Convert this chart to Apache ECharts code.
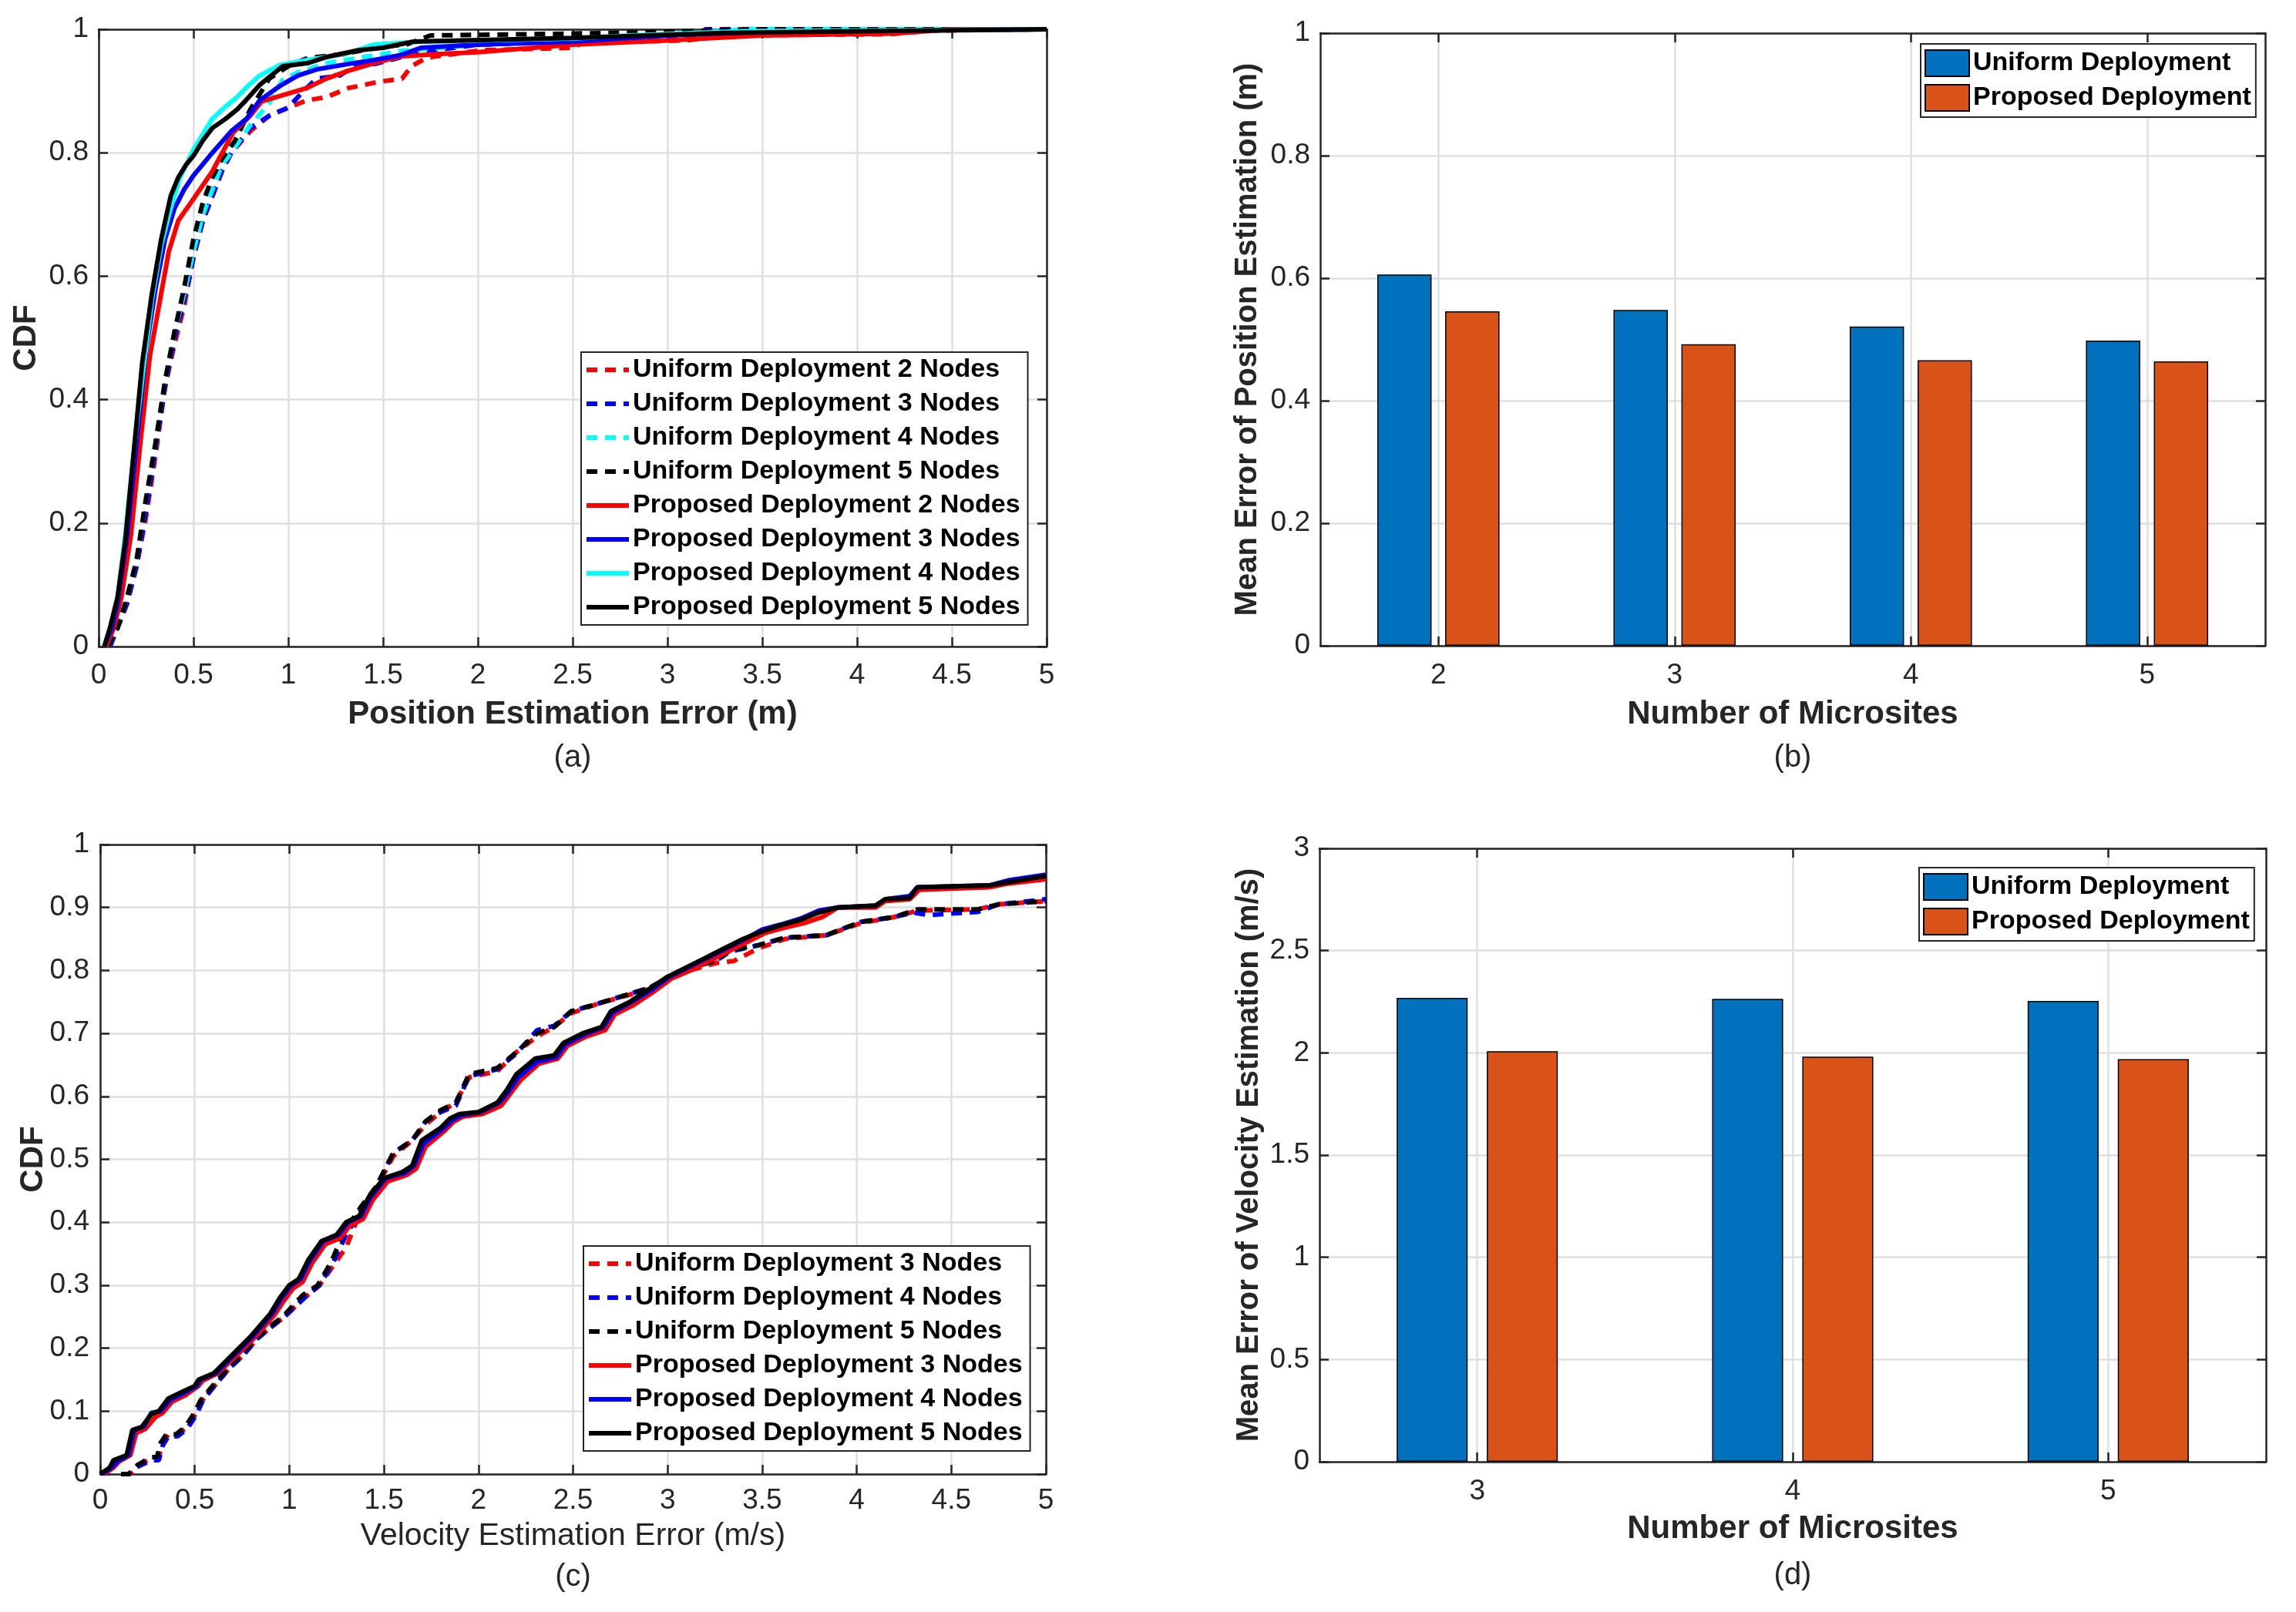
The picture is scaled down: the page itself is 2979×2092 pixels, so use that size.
<!DOCTYPE html>
<html><head><meta charset="utf-8">
<script src="https://cdn.jsdelivr.net/npm/echarts@6/dist/echarts.min.js"></script>
<style>
html,body{margin:0;padding:0;background:#fff;width:2979px;height:2092px;overflow:hidden}
.c{position:absolute;left:0;top:0;width:2979px;height:2092px}
</style></head>
<body>
<div id="ca" class="c"></div><div id="cb" class="c"></div><div id="cc" class="c"></div><div id="cd" class="c"></div>
<script>
// ---------------- DATA ----------------
// (a) CDF of position estimation error, [error (m), CDF]
const posNames = ['Uniform Deployment 2 Nodes','Uniform Deployment 3 Nodes','Uniform Deployment 4 Nodes','Uniform Deployment 5 Nodes',
  'Proposed Deployment 2 Nodes','Proposed Deployment 3 Nodes','Proposed Deployment 4 Nodes','Proposed Deployment 5 Nodes'];
const posU2 = [[0.05,0],[0.1,0.03],[0.15,0.07],[0.2,0.13],[0.25,0.21],[0.3,0.31],[0.35,0.42],[0.4,0.49],[0.45,0.55],[0.5,0.63],[0.55,0.69],[0.6,0.73],[0.65,0.77],[0.7,0.8],[0.8,0.835],[0.9,0.86],[1.0,0.873],[1.1,0.885],[1.2,0.89],[1.32,0.905],[1.48,0.915],[1.6,0.92],[1.65,0.94],[1.73,0.954],[2.02,0.966],[2.5,0.97],[2.55,0.978],[3.1,0.982],[3.3,0.99],[4.17,0.992],[4.4,0.998],[5,1]];
const posU3 = [[0.06,0],[0.1,0.03],[0.15,0.07],[0.2,0.13],[0.25,0.22],[0.3,0.32],[0.35,0.42],[0.4,0.5],[0.45,0.56],[0.5,0.63],[0.55,0.69],[0.6,0.73],[0.65,0.77],[0.7,0.8],[0.8,0.84],[0.9,0.86],[1.0,0.873],[1.08,0.9],[1.15,0.92],[1.27,0.925],[1.35,0.94],[1.46,0.944],[1.6,0.955],[1.75,0.965],[2.0,0.975],[2.5,0.98],[3.15,0.99],[3.2,1],[5,1]];
const posU4 = [[0.05,0],[0.1,0.03],[0.15,0.08],[0.2,0.14],[0.25,0.24],[0.3,0.33],[0.35,0.43],[0.4,0.51],[0.45,0.57],[0.5,0.64],[0.55,0.7],[0.6,0.74],[0.65,0.78],[0.7,0.8],[0.8,0.845],[0.9,0.88],[0.97,0.918],[1.05,0.93],[1.2,0.945],[1.4,0.955],[1.6,0.965],[2.0,0.975],[2.5,0.982],[3.0,0.99],[3.4,1],[5,1]];
const posU5 = [[0.05,0],[0.1,0.03],[0.15,0.08],[0.2,0.14],[0.25,0.24],[0.3,0.33],[0.35,0.43],[0.4,0.51],[0.45,0.58],[0.5,0.66],[0.55,0.72],[0.6,0.76],[0.65,0.79],[0.72,0.82],[0.8,0.87],[0.9,0.92],[1.0,0.94],[1.09,0.952],[1.15,0.955],[1.3,0.96],[1.45,0.97],[1.63,0.976],[1.75,0.99],[2.5,0.993],[3.0,0.996],[3.5,1],[5,1]];
const posP2 = [[0.04,0],[0.08,0.03],[0.12,0.08],[0.17,0.18],[0.22,0.33],[0.27,0.47],[0.33,0.572],[0.37,0.64],[0.42,0.69],[0.5,0.725],[0.6,0.77],[0.71,0.833],[0.8,0.86],[0.86,0.883],[1.0,0.896],[1.1,0.905],[1.2,0.92],[1.32,0.933],[1.45,0.945],[1.59,0.956],[1.8,0.96],[2.0,0.963],[2.5,0.975],[3.0,0.982],[3.5,0.99],[4.2,0.993],[4.5,1.0],[5,1]];
const posP3 = [[0.03,0],[0.07,0.03],[0.1,0.07],[0.15,0.18],[0.2,0.33],[0.25,0.48],[0.3,0.58],[0.35,0.66],[0.4,0.71],[0.45,0.74],[0.5,0.763],[0.6,0.8],[0.7,0.835],[0.78,0.855],[0.85,0.885],[0.955,0.908],[1.05,0.925],[1.15,0.935],[1.32,0.944],[1.45,0.95],[1.59,0.958],[1.7,0.97],[2.0,0.975],[2.5,0.98],[3.0,0.99],[3.5,0.996],[5,1]];
const posP4 = [[0.03,0],[0.06,0.03],[0.1,0.08],[0.14,0.18],[0.19,0.33],[0.24,0.46],[0.28,0.56],[0.33,0.65],[0.38,0.71],[0.43,0.76],[0.5,0.805],[0.55,0.83],[0.6,0.855],[0.67,0.875],[0.73,0.89],[0.78,0.906],[0.85,0.925],[0.955,0.942],[1.1,0.95],[1.3,0.96],[1.45,0.975],[1.7,0.98],[2.5,0.985],[2.8,0.99],[3.4,0.997],[5,1]];
const posP5 = [[0.03,0],[0.06,0.03],[0.1,0.08],[0.14,0.17],[0.19,0.33],[0.23,0.46],[0.28,0.57],[0.33,0.66],[0.38,0.73],[0.42,0.76],[0.46,0.78],[0.5,0.795],[0.55,0.82],[0.6,0.84],[0.67,0.855],[0.73,0.87],[0.78,0.886],[0.85,0.91],[0.97,0.94],[1.1,0.945],[1.2,0.955],[1.37,0.966],[1.5,0.97],[1.66,0.98],[2.5,0.986],[3.3,0.994],[4,0.997],[5,1]];

// (b) mean position error (m)
const micrositesB = ['2','3','4','5'];
const posMeanUniform = [0.606,0.548,0.521,0.498];
const posMeanProposed = [0.546,0.492,0.466,0.464];

// (c) CDF of velocity estimation error, [error (m/s), CDF]
const velNames = ['Uniform Deployment 3 Nodes','Uniform Deployment 4 Nodes','Uniform Deployment 5 Nodes',
  'Proposed Deployment 3 Nodes','Proposed Deployment 4 Nodes','Proposed Deployment 5 Nodes'];
const velU3 = [[0.12,0],[0.16,0],[0.21,0.015],[0.28,0.027],[0.31,0.027],[0.33,0.05],[0.36,0.063],[0.41,0.063],[0.46,0.075],[0.51,0.098],[0.54,0.117],[0.59,0.135],[0.68,0.167],[0.76,0.19],[0.83,0.215],[0.91,0.235],[0.975,0.25],[1.08,0.28],[1.16,0.3],[1.23,0.33],[1.3,0.36],[1.38,0.42],[1.46,0.455],[1.55,0.505],[1.65,0.53],[1.72,0.555],[1.8,0.575],[1.88,0.59],[1.95,0.63],[2.1,0.64],[2.2,0.67],[2.31,0.695],[2.4,0.71],[2.49,0.732],[2.64,0.748],[2.9,0.77],[3.08,0.797],[3.26,0.812],[3.35,0.815],[3.48,0.835],[3.62,0.85],[3.84,0.856],[4.02,0.875],[4.2,0.885],[4.32,0.895],[4.64,0.897],[4.75,0.905],[5,0.91]];
const velU4 = [[0.11,0],[0.15,0],[0.2,0.012],[0.27,0.022],[0.31,0.022],[0.33,0.045],[0.36,0.06],[0.41,0.06],[0.46,0.072],[0.51,0.095],[0.54,0.115],[0.59,0.135],[0.68,0.167],[0.76,0.19],[0.83,0.215],[0.91,0.235],[0.975,0.25],[1.08,0.28],[1.16,0.3],[1.23,0.335],[1.3,0.38],[1.38,0.42],[1.46,0.457],[1.55,0.51],[1.65,0.53],[1.72,0.56],[1.8,0.575],[1.88,0.585],[1.95,0.632],[2.1,0.643],[2.2,0.668],[2.31,0.705],[2.4,0.712],[2.49,0.735],[2.64,0.748],[2.9,0.772],[3.08,0.8],[3.26,0.816],[3.33,0.83],[3.48,0.84],[3.62,0.852],[3.84,0.856],[4.02,0.877],[4.2,0.885],[4.3,0.892],[4.38,0.888],[4.64,0.893],[4.75,0.905],[5,0.913]];
const velU5 = [[0.11,0],[0.15,0],[0.2,0.015],[0.27,0.027],[0.3,0.027],[0.32,0.05],[0.35,0.063],[0.4,0.063],[0.45,0.075],[0.5,0.098],[0.53,0.117],[0.58,0.135],[0.67,0.167],[0.75,0.19],[0.82,0.215],[0.9,0.235],[0.965,0.25],[1.07,0.284],[1.15,0.3],[1.22,0.336],[1.29,0.385],[1.38,0.425],[1.46,0.457],[1.55,0.51],[1.65,0.53],[1.72,0.56],[1.8,0.578],[1.88,0.59],[1.95,0.635],[2.1,0.645],[2.2,0.67],[2.31,0.7],[2.4,0.71],[2.49,0.735],[2.64,0.748],[2.9,0.772],[3.08,0.8],[3.26,0.816],[3.33,0.832],[3.48,0.84],[3.62,0.852],[3.84,0.856],[4.02,0.877],[4.2,0.885],[4.32,0.897],[4.64,0.897],[4.75,0.905],[5,0.91]];
const velP3 = [[0.02,0],[0.07,0.01],[0.1,0.02],[0.16,0.03],[0.19,0.065],[0.24,0.072],[0.29,0.09],[0.33,0.097],[0.38,0.115],[0.45,0.125],[0.52,0.14],[0.54,0.148],[0.62,0.16],[0.72,0.188],[0.82,0.218],[0.92,0.252],[0.97,0.275],[1.02,0.295],[1.07,0.305],[1.12,0.335],[1.19,0.365],[1.27,0.375],[1.32,0.395],[1.39,0.405],[1.44,0.435],[1.52,0.465],[1.62,0.475],[1.67,0.485],[1.72,0.52],[1.82,0.545],[1.87,0.56],[1.92,0.568],[2.02,0.572],[2.12,0.585],[2.17,0.605],[2.22,0.625],[2.32,0.652],[2.42,0.66],[2.47,0.68],[2.57,0.695],[2.67,0.705],[2.72,0.73],[2.82,0.745],[2.92,0.765],[3.02,0.787],[3.12,0.8],[3.22,0.815],[3.32,0.83],[3.42,0.845],[3.52,0.86],[3.62,0.868],[3.72,0.875],[3.82,0.885],[3.9,0.9],[4.1,0.9],[4.15,0.91],[4.28,0.913],[4.33,0.928],[4.7,0.932],[4.8,0.938],[5,0.945]];
const velP4 = [[0.01,0],[0.06,0.01],[0.09,0.02],[0.15,0.03],[0.18,0.07],[0.23,0.075],[0.27,0.097],[0.32,0.1],[0.37,0.118],[0.44,0.128],[0.51,0.14],[0.53,0.15],[0.61,0.16],[0.71,0.19],[0.81,0.22],[0.91,0.255],[0.96,0.28],[1.01,0.3],[1.06,0.31],[1.11,0.34],[1.18,0.37],[1.26,0.38],[1.31,0.4],[1.38,0.41],[1.43,0.44],[1.51,0.47],[1.61,0.478],[1.66,0.49],[1.71,0.525],[1.81,0.548],[1.86,0.562],[1.91,0.57],[2.01,0.575],[2.11,0.59],[2.16,0.608],[2.21,0.63],[2.31,0.655],[2.41,0.662],[2.46,0.683],[2.56,0.698],[2.66,0.71],[2.71,0.733],[2.81,0.75],[2.91,0.768],[3.01,0.79],[3.11,0.805],[3.21,0.82],[3.31,0.835],[3.41,0.85],[3.5,0.865],[3.6,0.873],[3.7,0.882],[3.8,0.895],[3.9,0.9],[4.1,0.903],[4.15,0.913],[4.28,0.918],[4.32,0.932],[4.7,0.935],[4.8,0.943],[5,0.952]];
const velP5 = [[0,0],[0.05,0.01],[0.07,0.022],[0.14,0.03],[0.17,0.07],[0.22,0.075],[0.27,0.095],[0.31,0.1],[0.36,0.12],[0.43,0.13],[0.5,0.14],[0.52,0.15],[0.6,0.16],[0.7,0.19],[0.8,0.22],[0.9,0.255],[0.95,0.28],[1.0,0.3],[1.05,0.31],[1.1,0.34],[1.17,0.37],[1.25,0.38],[1.3,0.4],[1.37,0.41],[1.42,0.44],[1.5,0.47],[1.6,0.48],[1.65,0.49],[1.7,0.53],[1.8,0.55],[1.85,0.565],[1.9,0.572],[2.0,0.575],[2.1,0.59],[2.15,0.61],[2.2,0.635],[2.3,0.66],[2.4,0.665],[2.45,0.685],[2.55,0.7],[2.65,0.71],[2.7,0.735],[2.8,0.75],[2.9,0.77],[3.0,0.79],[3.1,0.805],[3.2,0.82],[3.3,0.835],[3.4,0.85],[3.5,0.862],[3.6,0.872],[3.7,0.88],[3.8,0.892],[3.9,0.9],[4.1,0.903],[4.15,0.913],[4.28,0.915],[4.32,0.932],[4.7,0.935],[4.8,0.94],[5,0.95]];

// (d) mean velocity error (m/s)
const micrositesD = ['3','4','5'];
const velMeanUniform = [2.269,2.264,2.254];
const velMeanProposed = [2.008,1.981,1.969];

// ---------------- STYLE ----------------
const FONT = "'Liberation Sans', Arial, Helvetica, sans-serif";
const AX = '#262626', GRIDC = '#dfdfdf';
const DASH = [14, 10];
const LW = 6;
const posStyles = [['#ff0000',DASH],['#0000ff',DASH],['#00ffff',DASH],['#000000',DASH],
  ['#ff0000','solid'],['#0000ff','solid'],['#00ffff','solid'],['#000000','solid']];
const velStyles = [['#ff0000',DASH],['#0000ff',DASH],['#000000',DASH],
  ['#ff0000','solid'],['#0000ff','solid'],['#000000','solid']];

const axisLine = {show:true, onZero:false, lineStyle:{color:AX, width:2.5}};
const tickIn = {show:true, inside:true, length:12, lineStyle:{color:AX, width:2.5}};
const splitL = {show:true, lineStyle:{color:GRIDC, width:2.5}};
const tickLabel = (margin) => ({show:true, margin, color:AX, fontFamily:FONT, fontSize:37});

function txt(x, y, text, size, weight, rot) {
  return {type:'text', x, y, rotation: rot || 0, silent:true,
    style:{text, fill:'#262626', font: weight + ' ' + size + 'px ' + FONT, align:'center', verticalAlign:'middle'}};
}

function legendCfg(left, top, extra) {
  return Object.assign({show:true, orient:'vertical', left, top, itemGap:10, itemWidth:55, itemHeight:20,
    padding:[6,10,6,4], borderColor:AX, borderWidth:2, backgroundColor:'#fff', selectedMode:false,
    itemStyle:{opacity:0},
    textStyle:{fontFamily:FONT, fontSize:34, fontWeight:'bold', color:'#000', lineHeight:34}}, extra || {});
}

function cdfChart(id, g, xName, xWeight, yLabelMargin, xLabelMargin, yInt, names, datas, styles, leg, titleY, subLabel, subY, cdfX) {
  const chart = echarts.init(document.getElementById(id));
  const mk = (pos, show) => ({type:'value', min:0, max:5, interval:0.5, position:pos,
    axisLine, axisTick:tickIn, axisLabel: show ? tickLabel(xLabelMargin) : {show:false}, splitLine: show ? splitL : {show:false}});
  const mky = (pos, show) => ({type:'value', min:0, max:1, interval:yInt, position:pos,
    axisLine, axisTick:tickIn, axisLabel: show ? tickLabel(yLabelMargin) : {show:false}, splitLine: show ? splitL : {show:false}});
  chart.setOption({
    animation:false,
    grid:[{left:g.l, top:g.t, width:g.w, height:g.h, containLabel:false, outerBoundsMode:'none'}],
    xAxis:[mk('bottom',true), mk('top',false)],
    yAxis:[mky('left',true), mky('right',false)],
    legend: legendCfg(leg.l, leg.t, {data: names.map((n,i) => ({name:n,
      lineStyle:{color:styles[i][0], width:LW, type:styles[i][1], opacity:1}}))}),
    series: names.map((n,i) => ({type:'line', name:n, data:datas[i], xAxisIndex:0, yAxisIndex:0,
      symbol:'none', showSymbol:false, clip:true,
      lineStyle:{color:styles[i][0], width:LW, type:styles[i][1]}, itemStyle:{color:styles[i][0]}})),
    graphic:[
      txt(g.l + g.w/2, titleY, xName, xWeight === 'bold' ? 42 : 41, xWeight),
      txt(cdfX, g.t + g.h/2, 'CDF', 42, 'bold', Math.PI/2),
      txt(g.l + g.w/2, subY, subLabel, 40, 'normal')
    ]
  });
}

function barChart(id, g, cats, uni, pro, ymax, yInt, yName, yNameX, bw, bgap, leg, titleY, subLabel, subY) {
  const chart = echarts.init(document.getElementById(id));
  const mkx = (pos, show) => ({type:'category', data:cats, position:pos,
    axisLine, axisTick:Object.assign({alignWithLabel:true}, tickIn),
    axisLabel: show ? tickLabel(20) : {show:false},
    splitLine: show ? Object.assign({alignWithLabel:true}, splitL) : {show:false}});
  const mky = (pos, show) => ({type:'value', min:0, max:ymax, interval:yInt, position:pos,
    axisLine, axisTick:tickIn, axisLabel: show ? tickLabel(13) : {show:false}, splitLine: show ? splitL : {show:false}});
  chart.setOption({
    animation:false,
    grid:[{left:g.l, top:g.t, width:g.w, height:g.h, containLabel:false, outerBoundsMode:'none'}],
    xAxis:[mkx('bottom',true), mkx('top',false)],
    yAxis:[mky('left',true), mky('right',false)],
    legend: legendCfg(leg.l, leg.t, {data:['Uniform Deployment','Proposed Deployment'], icon:'rect', itemWidth:57, itemHeight:34, itemGap:9, padding:[7,6,7,5], itemStyle:{}}),
    series:[
      {type:'bar', name:'Uniform Deployment', data:uni, barWidth:bw, barGap:bgap, xAxisIndex:0, yAxisIndex:0,
        itemStyle:{color:'#0072BD', borderColor:'#000', borderWidth:1.5}},
      {type:'bar', name:'Proposed Deployment', data:pro, barWidth:bw, barGap:bgap, xAxisIndex:0, yAxisIndex:0,
        itemStyle:{color:'#D95319', borderColor:'#000', borderWidth:1.5}}
    ],
    graphic:[
      txt(g.l + g.w/2, titleY, 'Number of Microsites', 42, 'bold'),
      txt(yNameX, g.t + g.h/2, yName, 40, 'bold', Math.PI/2),
      txt(g.l + g.w/2, subY, subLabel, 40, 'normal')
    ]
  });
}

cdfChart('ca', {l:128,t:38,w:1230,h:801}, 'Position Estimation Error (m)', 'bold', 13, 19, 0.2,
  posNames, [posU2,posU3,posU4,posU5,posP2,posP3,posP4,posP5], posStyles, {l:754,t:457}, 927, '(a)', 984, 34);
barChart('cb', {l:1713,t:43,w:1226,h:795}, micrositesB, posMeanUniform, posMeanProposed, 1, 0.2,
  'Mean Error of Position Estimation (m)', 1619, '23%', '25%', {l:2492,t:57}, 927, '(b)', 984);
cdfChart('cc', {l:130,t:1096,w:1227,h:817}, 'Velocity Estimation Error (m/s)', 'normal', 14, 16, 0.1,
  velNames, [velU3,velU4,velU5,velP3,velP4,velP5], velStyles, {l:757,t:1617}, 1994, '(c)', 2047, 43);
barChart('cd', {l:1712,t:1101,w:1228,h:796}, micrositesD, velMeanUniform, velMeanProposed, 3, 0.5,
  'Mean Error of Velocity Estimation (m/s)', 1621, '22.5%', '27%', {l:2490,t:1126}, 1984, '(d)', 2045);
</script>
</body></html>
